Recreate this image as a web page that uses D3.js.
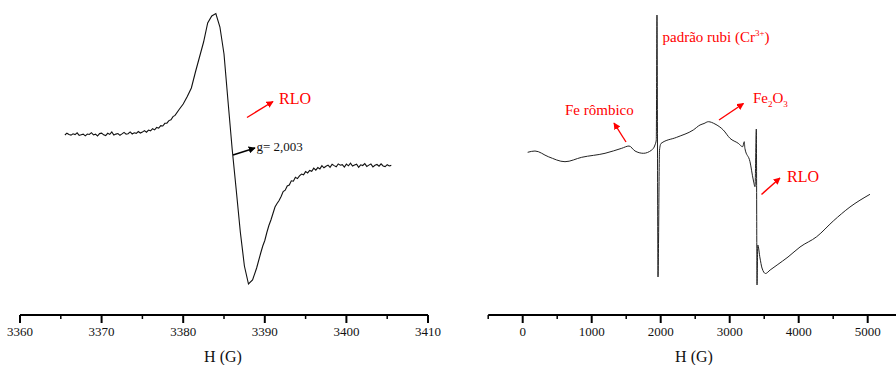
<!DOCTYPE html>
<html>
<head>
<meta charset="utf-8">
<script src="https://cdn.jsdelivr.net/npm/d3@7"></script>
<style>
  html, body { margin: 0; padding: 0; background: #fff; }
  svg { display: block; }
  text { font-family: "Liberation Serif", "DejaVu Serif", serif; }
</style>
</head>
<body>
<svg id="chart" width="896" height="365"></svg>
<script>
// Narrow sweep around g = 2.003: [field (G), derivative signal (arb. units)]
const sweepNarrow = [
  [3365.50, 15.0], [3365.75, 16.8], [3366.00, 15.6], [3366.25, 14.9], [3366.50, 16.2],
  [3366.75, 15.4], [3367.00, 17.1], [3367.25, 14.6], [3367.50, 15.3], [3367.75, 15.9],
  [3368.00, 14.2], [3368.25, 16.0], [3368.50, 15.5], [3368.75, 17.3], [3369.00, 15.1],
  [3369.25, 15.8], [3369.50, 14.0], [3369.75, 16.4], [3370.00, 16.9], [3370.25, 15.2],
  [3370.50, 14.5], [3370.75, 16.7], [3371.00, 15.6], [3371.25, 18.0], [3371.50, 15.0],
  [3371.75, 15.9], [3372.00, 16.5], [3372.25, 14.7], [3372.50, 16.1], [3372.75, 17.6],
  [3373.00, 15.8], [3373.25, 16.3], [3373.50, 18.1], [3373.75, 16.0], [3374.00, 17.2],
  [3374.25, 16.6], [3374.50, 18.5], [3374.75, 17.0], [3375.00, 17.9], [3375.25, 19.4],
  [3375.50, 17.8], [3375.75, 19.9], [3376.00, 19.2], [3376.25, 21.3], [3376.50, 20.1],
  [3376.75, 22.6], [3377.00, 21.8], [3377.25, 24.4], [3377.50, 24.0], [3377.75, 26.7],
  [3378.00, 26.9], [3378.25, 29.4], [3378.50, 30.2], [3378.75, 33.4], [3379.00, 34.6],
  [3379.50, 40.5], [3380.00, 46.0], [3380.50, 53.5], [3381.00, 62.0], [3381.50, 78.0],
  [3382.00, 93.0], [3382.50, 108.0], [3383.00, 127.0], [3383.50, 134.0], [3384.00, 136.5],
  [3384.50, 123.0], [3385.00, 96.0], [3385.50, 48.0], [3386.00, 1.0], [3386.50, -40.0],
  [3387.00, -82.0], [3387.50, -116.0], [3388.00, -134.0], [3388.50, -130.0], [3389.00, -118.0],
  [3389.50, -103.0], [3389.75, -96.0], [3390.00, -90.5], [3390.25, -82.5], [3390.50, -75.5],
  [3390.75, -70.0], [3391.00, -63.5], [3391.25, -57.0], [3391.50, -53.5], [3391.75, -50.5],
  [3392.00, -46.5], [3392.25, -41.6], [3392.50, -40.2], [3392.75, -35.9], [3393.00, -35.1],
  [3393.25, -30.8], [3393.50, -31.2], [3393.75, -27.3], [3394.00, -28.6], [3394.25, -25.9],
  [3394.50, -24.1], [3394.75, -24.8], [3395.00, -21.6], [3395.25, -22.9], [3395.50, -20.4],
  [3395.75, -21.3], [3396.00, -18.2], [3396.25, -20.1], [3396.50, -17.6], [3396.75, -18.9],
  [3397.00, -15.7], [3397.25, -17.8], [3397.50, -16.2], [3397.75, -15.1], [3398.00, -17.4],
  [3398.25, -14.3], [3398.50, -15.6], [3398.75, -16.8], [3399.00, -13.9], [3399.25, -15.2],
  [3399.50, -14.6], [3399.75, -17.0], [3400.00, -14.1], [3400.25, -15.8], [3400.50, -13.2],
  [3400.75, -16.1], [3401.00, -15.0], [3401.25, -14.2], [3401.50, -17.3], [3401.75, -14.8],
  [3402.00, -15.5], [3402.25, -13.6], [3402.50, -16.4], [3402.75, -15.1], [3403.00, -14.0],
  [3403.25, -16.9], [3403.50, -15.3], [3403.75, -14.5], [3404.00, -16.2], [3404.25, -13.8],
  [3404.50, -15.9], [3404.75, -16.6], [3405.00, -14.7], [3405.25, -16.0], [3405.50, -15.4]
];

// Wide sweep 0–5000 G with the ruby (Cr3+) reference line
const fieldWide = [
  72, 178, 371, 613, 855, 1193, 1435, 1541, 1628, 1748,
  1870, 1917, 1936, 1946, 1961, 1983, 2004, 2232, 2472, 2570,
  2628, 2690, 2787, 2907, 3004, 3124, 3188, 3211, 3220, 3294,
  3342, 3367, 3386, 3396, 3407, 3439, 3468, 3519, 3586, 3687,
  3845, 4019, 4261, 4501, 4743, 5033
];
const signalWide = [
  -2.3, -1, -6.7, -11.7, -7.3, -3.3, 1.7, 4, -1, -3.3,
  0, 5, 10, 135, -127, 0, 6.5, 12.7, 20, 25,
  26.5, 28.3, 26, 20, 11.7, 6.7, 3.3, 8.3, 1.7, -11.7,
  -30, -36.7, 21, -135, -95, -108, -118, -123.5, -120, -115,
  -107, -97, -86.7, -71, -57, -44.3
];

const ticksNarrow = [3360, 3370, 3380, 3390, 3400, 3410];
const minorNarrow = [3365, 3375, 3385, 3395, 3405];
const ticksWide = [0, 1000, 2000, 3000, 4000, 5000];
const minorWide = [-500, 500, 1500, 2500, 3500, 4500];
const axisTitle = "H (G)";

const svg = d3.select("#chart");
const red = "#ff0000";
const serif = "Liberation Serif";

// arrowheads
const defs = svg.append("defs");
function marker(id, color) {
  defs.append("marker")
    .attr("id", id)
    .attr("viewBox", "0 0 10 10")
    .attr("refX", 9).attr("refY", 5)
    .attr("markerWidth", 7).attr("markerHeight", 7)
    .attr("markerUnits", "userSpaceOnUse")
    .attr("orient", "auto")
    .append("path")
    .attr("d", "M0,0 L10,5 L0,10 Z")
    .attr("fill", color);
}
marker("headRed", red);
marker("headBlack", "#000");

const axisY = 315;

function drawAxis(g, scale, major, minor) {
  const [x0, x1] = scale.range();
  g.append("line")
    .attr("x1", x0).attr("x2", Math.min(x1, 900))
    .attr("y1", axisY).attr("y2", axisY)
    .attr("stroke", "#000").attr("stroke-width", 2);
  g.selectAll(".maj").data(major).join("line")
    .attr("x1", d => scale(d)).attr("x2", d => scale(d))
    .attr("y1", axisY).attr("y2", axisY + 8)
    .attr("stroke", "#000").attr("stroke-width", 2);
  g.selectAll(".min").data(minor).join("line")
    .attr("x1", d => scale(d)).attr("x2", d => scale(d))
    .attr("y1", axisY).attr("y2", axisY + 4)
    .attr("stroke", "#000").attr("stroke-width", 1.5);
  g.selectAll(".lbl").data(major).join("text")
    .attr("x", d => scale(d)).attr("y", 336)
    .attr("text-anchor", "middle")
    .attr("font-family", serif)
    .attr("font-size", 13)
    .attr("fill", "#111")
    .text(d => d);
}

function arrow(x1, y1, x2, y2, color, id) {
  svg.append("line")
    .attr("x1", x1).attr("y1", y1).attr("x2", x2).attr("y2", y2)
    .attr("stroke", color).attr("stroke-width", 1.4)
    .attr("marker-end", `url(#${id})`);
}

function label(x, y, size, color, txt) {
  return svg.append("text").attr("x", x).attr("y", y)
    .attr("font-family", serif).attr("font-size", size).attr("fill", color)
    .text(txt);
}

// ---- left panel: narrow sweep ----
const xN = d3.scaleLinear().domain([3360, 3410]).range([20, 428]);
const yN = d3.scaleLinear().domain([-140, 140]).range([290, 10]);
const left = svg.append("g");
drawAxis(left, xN, ticksNarrow, minorNarrow);
label(223, 362, 16, "#111", axisTitle).attr("text-anchor", "middle");

left.append("path")
  .datum(sweepNarrow)
  .attr("fill", "none").attr("stroke", "#111").attr("stroke-width", 1.1)
  .attr("d", d3.line().x(d => xN(d[0])).y(d => yN(d[1])));

arrow(233, 155, 255, 148, "#000", "headBlack");
label(256.5, 151, 13, "#111", "g= 2,003");
arrow(247, 117.5, 273, 101.5, red, "headRed");
label(279, 104, 16, red, "RLO");

// ---- right panel: wide sweep ----
const xW = d3.scaleLinear().domain([-500, 5500]).range([488.2, 902.2]);
const yW = d3.scaleLinear().domain([-140, 140]).range([290, 10]);
const right = svg.append("g");
drawAxis(right, xW, ticksWide, minorWide);
label(694, 362, 16, "#111", axisTitle).attr("text-anchor", "middle");

right.append("path")
  .datum(d3.range(fieldWide.length))
  .attr("fill", "none").attr("stroke", "#222").attr("stroke-width", 1)
  .attr("d", d3.line().curve(d3.curveMonotoneX)
    .x(i => xW(fieldWide[i])).y(i => yW(signalWide[i])));

// annotations
const cr = label(662.5, 41.5, 15, red, null);
cr.append("tspan").text("padrão rubi (Cr");
cr.append("tspan").attr("font-size", 9).attr("dy", -6).text("3+");
cr.append("tspan").attr("dy", 6).text(")");

const fe = label(753, 103, 15, red, null);
fe.append("tspan").text("Fe");
fe.append("tspan").attr("font-size", 9).attr("dy", 4).text("2");
fe.append("tspan").attr("dy", -4).text("O");
fe.append("tspan").attr("font-size", 9).attr("dy", 4).text("3");
arrow(719, 120, 743.5, 103.5, red, "headRed");

label(565, 115, 15, red, "Fe rômbico");
arrow(626, 142, 614, 123, red, "headRed");

label(787, 182, 16, red, "RLO");
arrow(761.5, 194.5, 780, 178, red, "headRed");
</script>
</body>
</html>
